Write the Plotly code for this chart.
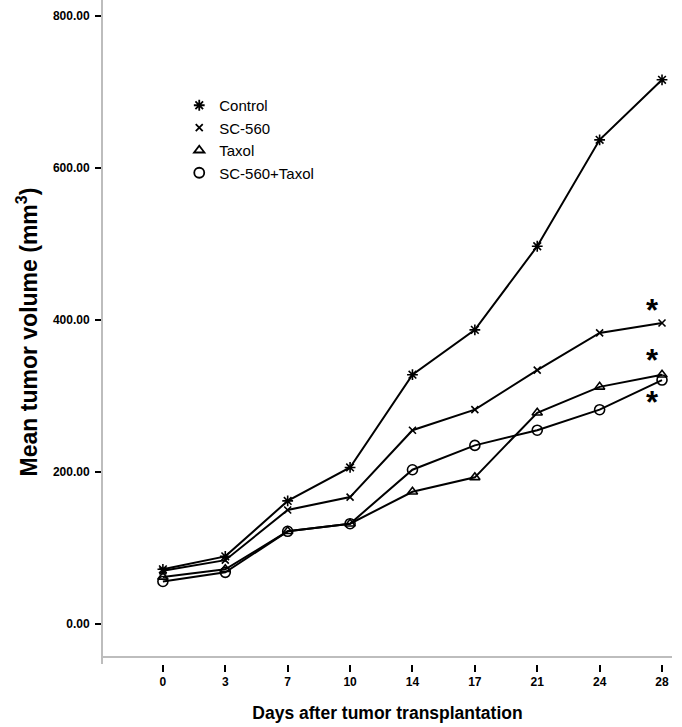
import plotly.graph_objects as go

days = ["0", "3", "7", "10", "14", "17", "21", "24", "28"]
control = [72, 89, 162, 206, 328, 387, 497, 637, 716]
sc560 = [70, 84, 150, 167, 255, 282, 334, 383, 396]
taxol = [62, 72, 122, 132, 174, 193, 278, 312, 328]
combo = [56, 68, 122, 132, 203, 235, 255, 282, 321]
y_ticks = [0, 200, 400, 600, 800]

series = [
    ("Control", control, "asterisk-open", 9),
    ("SC-560", sc560, "x-thin-open", 7),
    ("Taxol", taxol, "triangle-up-open", 9),
    ("SC-560+Taxol", combo, "circle-open", 10),
]

FONT = "Liberation Sans, Arial, sans-serif"
fig = go.Figure()
idx = list(range(len(days)))
for name, vals, sym, sz in series:
    fig.add_trace(go.Scatter(
        x=idx, y=vals, mode="lines+markers", showlegend=False,
        line=dict(color="black", width=2),
        marker=dict(symbol=sym, size=sz, color="black", line=dict(color="black", width=1.6)),
    ))
for name, vals, sym, sz in series:
    fig.add_trace(go.Scatter(
        x=[None], y=[None], mode="markers", name=name, showlegend=True,
        marker=dict(symbol=sym, size=sz, color="black", line=dict(color="black", width=1.8)),
    ))

# significance asterisks
for yv in [416, 351, 296]:
    fig.add_annotation(x=7.85, y=yv, text="<b>*</b>", showarrow=False,
                       font=dict(family=FONT, size=31, color="black"),
                       xanchor="center", yanchor="middle", yshift=-3)

# gray x axis line (drawn above the ticks, like the original)
fig.add_shape(type="line", xref="paper", yref="y", x0=0, x1=1, y0=-43.4, y1=-43.4,
              line=dict(color="#bdbdbd", width=2))

fig.update_layout(
    width=682, height=727,
    margin=dict(l=103, r=10, t=0, b=63),
    plot_bgcolor="white", paper_bgcolor="white",
    font=dict(family=FONT, color="black"),
    legend=dict(x=0.134, y=0.866, xanchor="left", yanchor="top",
                font=dict(family=FONT, size=15, color="black"),
                bgcolor="rgba(0,0,0,0)", itemwidth=30, tracegroupgap=0),
    xaxis=dict(
        range=[-0.96, 8.16], tickvals=idx, ticktext=days, automargin=False,
        showgrid=False, zeroline=False, showline=False,
        ticks="outside", ticklen=7, tickwidth=2, tickcolor="black",
        tickfont=dict(family=FONT, size=12, color="black", weight="bold"),
        title=dict(text="<b>Days after tumor transplantation</b>",
                   font=dict(family=FONT, size=17.5, color="black"), standoff=18),
    ),
    yaxis=dict(
        range=[-52.6, 821], tickvals=y_ticks, tickformat=".2f", automargin=False,
        showgrid=False, zeroline=False, showline=True, linecolor="#bdbdbd", linewidth=2,
        ticks="outside", ticklen=6, tickwidth=2, tickcolor="black", ticklabelstandoff=3,
        tickfont=dict(family=FONT, size=12, color="black", weight="bold"),
        title=dict(text="<b>Mean tumor volume (mm<sup>3</sup>)</b>",
                   font=dict(family=FONT, size=23, color="black"), standoff=9),
    ),
)

fig.write_html("out.html", config={"displayModeBar": False},
               post_script="document.body.style.margin='0';")
